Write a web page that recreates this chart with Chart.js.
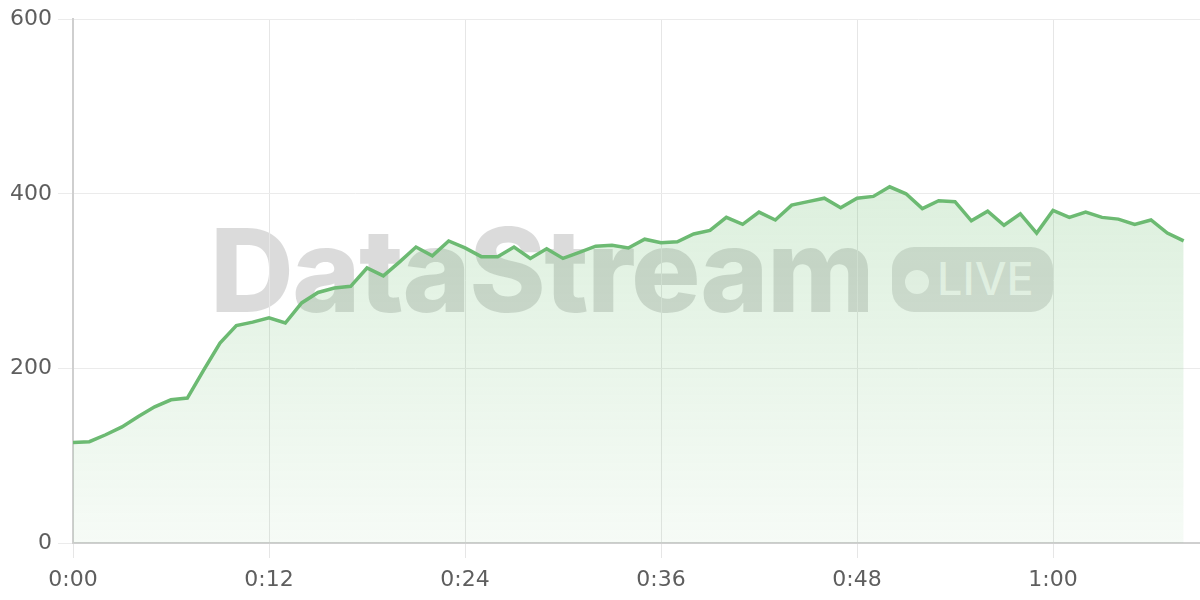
<!DOCTYPE html>
<html>
<head>
<meta charset="utf-8">
<script src="https://cdn.jsdelivr.net/npm/chart.js@4"></script>
<style>
    html, body { margin: 0; padding: 0; background: #fff; }
    #wrap { position: relative; width: 1200px; height: 600px; }
    #chart { position: relative; z-index: 1; }
    .mark { position: absolute; z-index: 0; font-family: Inter, "DejaVu Sans", sans-serif; line-height: 1; white-space: nowrap; }
    #brand { left: 210px; top: 212px; font-size: 116px; font-weight: 800; color: rgba(0, 0, 0, 0.14); letter-spacing: -1.5px; }
    #live { left: 892px; top: 247px; width: 161px; height: 65px; border-radius: 22px; background: rgba(0, 0, 0, 0.12); }
    #live .dot { position: absolute; left: 13px; top: 23px; width: 24px; height: 24px; border-radius: 50%; background: rgba(255, 255, 255, 0.85); }
    #live .txt { position: absolute; left: 45px; top: 9px; font-size: 45px; font-weight: 500; color: rgba(255, 255, 255, 0.85); }
</style>
</head>
<body>
<div id="wrap">
    <div id="brand" class="mark">DataStream</div>
    <div id="live" class="mark"><span class="dot"></span><span class="txt">LIVE</span></div>
    <canvas id="chart" width="1200" height="600"></canvas>
</div>
<script>
// elapsed minutes of each sample
const minutes = [0, 1, 2, 3, 4, 5, 6, 7, 8, 9, 10, 11, 12, 13, 14, 15, 16, 17, 18, 19,
    20, 21, 22, 23, 24, 25, 26, 27, 28, 29, 30, 31, 32, 33, 34, 35, 36, 37, 38, 39,
    40, 41, 42, 43, 44, 45, 46, 47, 48, 49, 50, 51, 52, 53, 54, 55, 56, 57, 58, 59,
    60, 61, 62, 63, 64, 65, 66, 67, 68];

const values = [115, 116, 124, 133, 145, 156, 164, 166, 198, 229, 249, 253, 258, 252, 275, 287, 292, 294, 315, 306,
    322, 339, 329, 346, 338, 328, 328, 339, 326, 337, 326, 333, 340, 341, 338, 348, 344, 345, 354, 358,
    373, 365, 379, 370, 387, 391, 395, 384, 395, 397, 408, 400, 383, 392, 391, 369, 380, 364, 377, 355,
    381, 373, 379, 373, 371, 365, 370, 355, 346];

const xTicks = [0, 12, 24, 36, 48, 60];
const yTicks = [0, 200, 400, 600];

const lineColor = '#6cba72';

function fmtMinutes(v) {
    return Math.floor(v / 60) + ':' + String(v % 60).padStart(2, '0');
}

function fillGradient(context) {
    const area = context.chart.chartArea;
    if (!area) return 'rgba(109,186,114,0.15)';
    const g = context.chart.ctx.createLinearGradient(0, area.top, 0, area.bottom);
    g.addColorStop(0, 'rgba(102,187,106,0.30)');
    g.addColorStop(1, 'rgba(102,187,106,0.06)');
    return g;
}

const tickFont = { family: '"DejaVu Sans", sans-serif', size: 22 };

new Chart(document.getElementById('chart'), {
    type: 'line',
    data: {
        datasets: [{
            data: values.map((v, i) => ({ x: minutes[i], y: v })),
            borderColor: lineColor,
            borderWidth: 3.5,
            backgroundColor: fillGradient,
            fill: 'origin',
            tension: 0,
            pointRadius: 0
        }]
    },
    options: {
        responsive: false,
        animation: false,
        layout: { padding: { top: 9, right: 0, left: 0, bottom: 0 } },
        plugins: { legend: { display: false }, tooltip: { enabled: false } },
        scales: {
            x: {
                type: 'linear',
                min: 0,
                max: 69,
                afterBuildTicks: scale => { scale.ticks = xTicks.map(v => ({ value: v })); },
                afterFit: scale => { scale.height = 57; },
                ticks: {
                    color: '#5e5e5e',
                    font: tickFont,
                    padding: 9,
                    maxRotation: 0,
                    callback: v => fmtMinutes(v)
                },
                grid: { color: '#e6e6e6', lineWidth: 1, tickLength: 15 },
                border: { color: '#cfcfcf', width: 2 }
            },
            y: {
                min: 0,
                max: 600,
                afterBuildTicks: scale => { scale.ticks = yTicks.map(v => ({ value: v })); },
                afterFit: scale => { scale.width = 73; },
                ticks: { color: '#5e5e5e', font: tickFont, padding: 6 },
                grid: { color: '#ebebeb', lineWidth: 1, tickLength: 15 },
                border: { color: '#cfcfcf', width: 2 }
            }
        }
    }
});
</script>
</body>
</html>
